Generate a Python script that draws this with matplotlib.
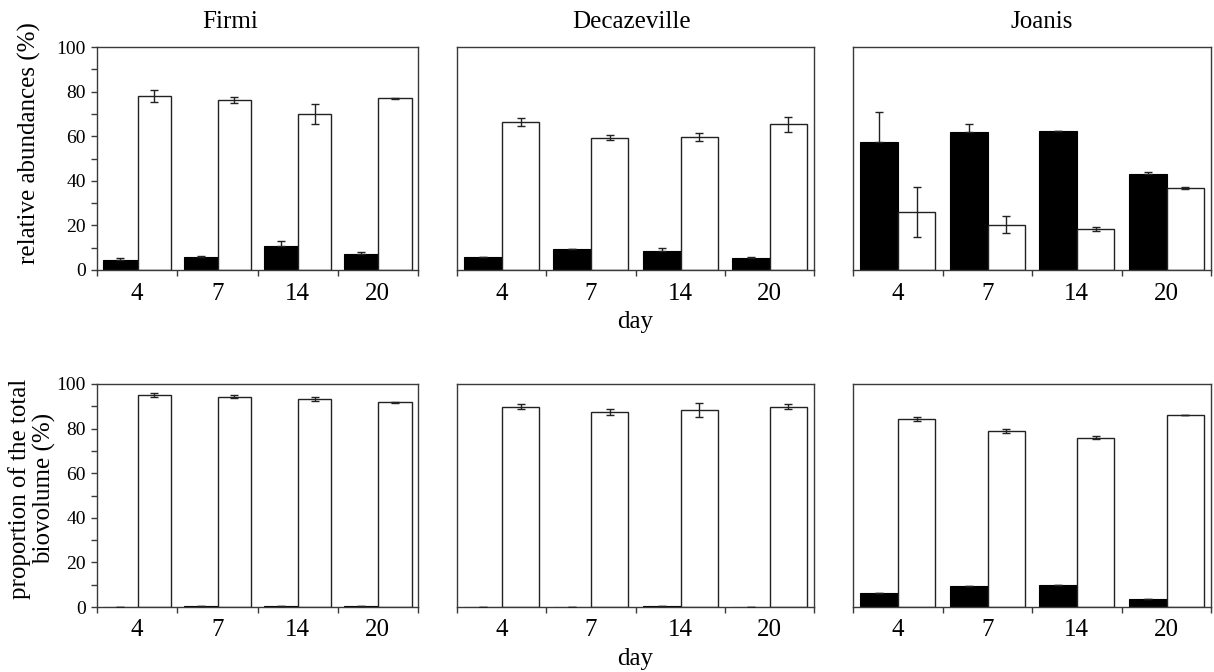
import matplotlib
matplotlib.use("Agg")
import matplotlib.pyplot as plt
import numpy as np
from matplotlib.ticker import MultipleLocator, FixedLocator

plt.rcParams['font.family'] = ['Liberation Serif', 'DejaVu Serif']

days = ['4', '7', '14', '20']
sites = ['Firmi', 'Decazeville', 'Joanis']

# Top row: relative abundances (%)
firmi_abund_black = [4.3, 5.7, 10.9, 7.0]
firmi_abund_black_err = [1.0, 0.8, 2.2, 0.9]
firmi_abund_white = [77.9, 76.3, 70.0, 77.0]
firmi_abund_white_err = [2.6, 1.2, 4.6, 0.2]

deca_abund_black = [6.0, 9.3, 8.7, 5.4]
deca_abund_black_err = [0.0, 0.0, 1.2, 0.3]
deca_abund_white = [66.3, 59.4, 59.7, 65.4]
deca_abund_white_err = [1.8, 1.2, 1.8, 3.4]

joan_abund_black = [57.6, 61.9, 62.2, 43.1]
joan_abund_black_err = [13.3, 3.4, 0.3, 0.8]
joan_abund_white = [26.1, 20.4, 18.2, 36.7]
joan_abund_white_err = [11.1, 3.9, 0.9, 0.3]

# Bottom row: proportion of the total biovolume (%)
firmi_biov_black = [0.0, 0.3, 0.3, 0.3]
firmi_biov_black_err = [0.0, 0.0, 0.0, 0.0]
firmi_biov_white = [95.1, 94.3, 93.4, 91.8]
firmi_biov_white_err = [1.0, 0.8, 0.8, 0.3]

deca_biov_black = [0.2, 0.2, 0.4, 0.2]
deca_biov_black_err = [0.0, 0.0, 0.2, 0.0]
deca_biov_white = [89.9, 87.6, 88.5, 89.9]
deca_biov_white_err = [1.3, 1.3, 3.1, 1.2]

joan_biov_black = [6.4, 9.4, 9.8, 3.6]
joan_biov_black_err = [0.0, 0.0, 0.0, 0.0]
joan_biov_white = [84.4, 78.9, 75.9, 86.0]
joan_biov_white_err = [1.0, 1.0, 0.7, 0.1]

top_data = [
    (firmi_abund_black, firmi_abund_black_err, firmi_abund_white, firmi_abund_white_err),
    (deca_abund_black, deca_abund_black_err, deca_abund_white, deca_abund_white_err),
    (joan_abund_black, joan_abund_black_err, joan_abund_white, joan_abund_white_err),
]
bottom_data = [
    (firmi_biov_black, firmi_biov_black_err, firmi_biov_white, firmi_biov_white_err),
    (deca_biov_black, deca_biov_black_err, deca_biov_white, deca_biov_white_err),
    (joan_biov_black, joan_biov_black_err, joan_biov_white, joan_biov_white_err),
]

W, H = 1214, 672
fig = plt.figure(figsize=(W / 100, H / 100), dpi=100)

col_px = [(97, 418), (457, 814), (853, 1211)]
row_px = [(47, 270), (384, 607)]
title_x = [0.414, 0.49, 0.528]

spine_col = '#3a3a3a'

def make_ax(col, row):
    x0, x1 = col_px[col]
    y0, y1 = row_px[row]
    return fig.add_axes([x0 / W, 1 - y1 / H, (x1 - x0) / W, (y1 - y0) / H])

axes = {}
for row, data in enumerate([top_data, bottom_data]):
    for col, (bk, bke, wh, whe) in enumerate(data):
        ax = make_ax(col, row)
        axes[(row, col)] = ax
        x = np.arange(len(days))
        bl_left = x + 0.08
        bl_w = 0.425
        wh_left = x + 0.505
        wh_w = 0.415
        ax.bar(bl_left, bk, width=bl_w, align='edge', color='black',
               edgecolor='black', linewidth=0.8, zorder=2)
        ax.bar(wh_left, wh, width=wh_w, align='edge', color='white',
               edgecolor='#222222', linewidth=1.0, zorder=2)
        ax.errorbar(bl_left + bl_w / 2, bk, yerr=[np.zeros(len(bke)), bke], fmt='none',
                    ecolor='#222222', elinewidth=1.0, capsize=3, capthick=1.0, zorder=3)
        ax.errorbar(wh_left + wh_w / 2, wh, yerr=whe, fmt='none', ecolor='#222222',
                    elinewidth=1.0, capsize=3, capthick=1.0, zorder=3)
        ax.set_xlim(0, len(days))
        ax.set_ylim(0, 100)
        for s in ax.spines.values():
            s.set_color(spine_col)
            s.set_linewidth(1.0)
        ax.set_xticks(x + 0.5)
        ax.set_xticklabels(days, fontsize=18)
        ax.xaxis.set_minor_locator(FixedLocator(np.arange(len(days) + 1)))
        ax.tick_params(axis='x', which='major', length=0, pad=9)
        ax.tick_params(axis='x', which='minor', length=4, width=1.0,
                       color=spine_col, direction='out')
        if col == 0:
            ax.yaxis.set_major_locator(MultipleLocator(20))
            ax.yaxis.set_minor_locator(MultipleLocator(10))
            ax.tick_params(axis='y', which='both', length=4, width=1.0,
                           color=spine_col, direction='out', labelsize=14, pad=4)
        else:
            ax.set_yticks([])
        if row == 0:
            ax.set_title(sites[col], fontsize=18, pad=14, x=title_x[col])
        if col == 1:
            ax.set_xlabel('day', fontsize=18, labelpad=5)

ax_t = axes[(0, 0)]
ax_t.set_ylabel('relative abundances (%)', fontsize=18)
ax_t.yaxis.set_label_coords(-0.175, 0.57)
ax_b = axes[(1, 0)]
ax_b.set_ylabel('proportion of the total\nbiovolume (%)', fontsize=18, linespacing=1.1)
ax_b.yaxis.set_label_coords(-0.128, 0.53)

fig.savefig('out.png', dpi=100)
